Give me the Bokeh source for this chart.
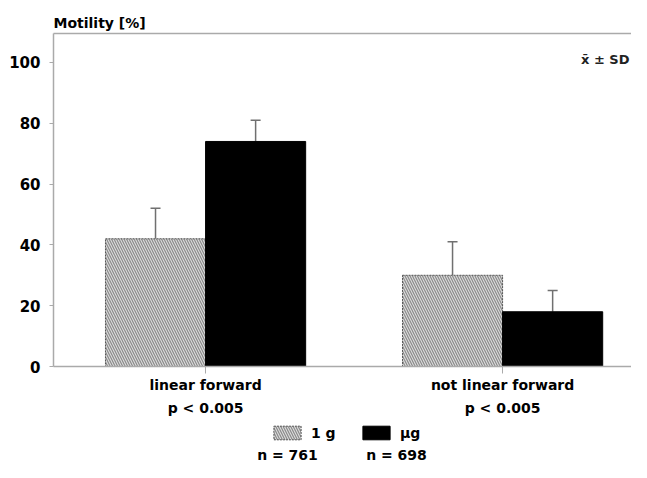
from bokeh.plotting import figure
from bokeh.layouts import column
from bokeh.models import (FixedTicker, LinearAxis, Range1d, ColumnDataSource, Whisker, TeeHead,
                          Legend, LegendItem, Label, Title)
from bokeh.transform import dodge
from bokeh.embed import file_html
from bokeh.resources import INLINE

# ---- data ----
categories = ["linear forward", "not linear forward"]
p_values = ["p < 0.005", "p < 0.005"]
series_names = ["1 g", "µg"]
n_labels = ["n = 761", "n = 698"]
mean_1g = [42, 30]
sd_1g = [10, 11]
mean_ug = [74, 18]
sd_ug = [7, 7]
y_ticks = [0, 20, 40, 60, 80, 100]
y_label = "Motility [%]"
stat_note = "x̄ ± SD"

FONT = "DejaVu Sans"
BAR_W = 0.337
xs = [i + 1 for i in range(len(categories))]

HATCH = dict(fill_color="#dcdcdc", hatch_pattern="left_diagonal_line", hatch_color="#8a8a8a",
             hatch_scale=5, hatch_weight=1.2, line_color="#555555", line_dash="2 1", line_width=1)
SOLID = dict(fill_color="black", line_color="black")

src = ColumnDataSource(dict(
    x=xs,
    m1=mean_1g, u1=[m + s for m, s in zip(mean_1g, sd_1g)],
    m2=mean_ug, u2=[m + s for m, s in zip(mean_ug, sd_ug)],
))

p = figure(width=631, height=420, output_backend="svg", toolbar_location=None,
           x_range=Range1d(0.488, 2.434), y_range=Range1d(0, 109.5),
           min_border_left=53, min_border_right=0, min_border_top=33, min_border_bottom=54,
           x_axis_type=None, y_axis_type=None)
p.outline_line_color = None
p.xgrid.visible = False
p.ygrid.visible = False

p.vbar(x=dodge("x", -BAR_W / 2, range=p.x_range), top="m1", width=BAR_W, source=src, **HATCH)
p.vbar(x=dodge("x", BAR_W / 2, range=p.x_range), top="m2", width=BAR_W, source=src, **SOLID)

for base, lo, hi in [(-BAR_W / 2, "m1", "u1"), (BAR_W / 2, "m2", "u2")]:
    w = Whisker(base=dodge("x", base, range=p.x_range), lower=lo, upper=hi, source=src,
                line_color="#707070", line_width=1.5, lower_head=None,
                upper_head=TeeHead(size=10, line_color="#707070", line_width=1.5))
    p.add_layout(w)

# y axis
ya = LinearAxis(ticker=FixedTicker(ticks=y_ticks))
ya.axis_line_color = "#aaaaaa"
ya.axis_line_width = 1.5
ya.major_tick_line_color = "#aaaaaa"
ya.major_tick_in = 0
ya.major_tick_out = 4
ya.minor_tick_line_color = None
ya.major_label_text_font = FONT
ya.major_label_text_font_style = "bold"
ya.major_label_text_font_size = "15px"
ya.major_label_text_color = "black"
ya.major_label_standoff = 9
p.add_layout(ya, "left")

# x axis (categories)
xa = LinearAxis(ticker=FixedTicker(ticks=xs),
                major_label_overrides={x: c for x, c in zip(xs, categories)})
xa.axis_line_color = "#aaaaaa"
xa.axis_line_width = 1.5
xa.major_tick_line_color = "#aaaaaa"
xa.major_tick_in = 0
xa.major_tick_out = 7
xa.minor_tick_line_color = None
xa.major_label_text_font = FONT
xa.major_label_text_font_style = "bold"
xa.major_label_text_font_size = "14px"
xa.major_label_text_color = "black"
xa.major_label_standoff = 3
p.add_layout(xa, "below")

xa2 = LinearAxis(ticker=FixedTicker(ticks=xs),
                 major_label_overrides={x: c for x, c in zip(xs, p_values)})
xa2.axis_line_color = None
xa2.major_tick_line_color = None
xa2.major_tick_out = 0
xa2.major_tick_in = 0
xa2.minor_tick_line_color = None
xa2.major_label_text_font = FONT
xa2.major_label_text_font_style = "bold"
xa2.major_label_text_font_size = "14px"
xa2.major_label_text_color = "black"
xa2.major_label_standoff = 4
p.add_layout(xa2, "below")

# top frame line
ta = LinearAxis(ticker=FixedTicker(ticks=[]))
ta.axis_line_color = "#aaaaaa"
ta.axis_line_width = 1.5
ta.major_tick_line_color = None
ta.minor_tick_line_color = None
ta.major_tick_out = 0
ta.major_label_text_font_size = "0px"
ta.major_label_standoff = 0
p.add_layout(ta, "above")

p.add_layout(Title(text=y_label, align="left", text_font=FONT, text_font_style="bold",
                   text_font_size="14px", text_color="black", standoff=5), "above")

p.add_layout(Label(x=576, y=307, x_units="screen", y_units="screen", text=stat_note,
                   text_font=FONT, text_font_style="bold", text_font_size="13px",
                   text_align="right", text_baseline="middle", text_color="#222222"))

# ---- legend strip (frame aligned with the chart's frame) ----
q = figure(width=631, height=42, output_backend="svg", toolbar_location=None,
           x_range=Range1d(100, 101), y_range=Range1d(1000, 1001),
           min_border_left=0, min_border_right=0, min_border_top=0, min_border_bottom=0,
           x_axis_type=None, y_axis_type=None)
q.outline_line_color = None
q.xgrid.visible = False
q.ygrid.visible = False
# swatch renderers (same series, kept far outside this strip's visible range)
k1 = q.vbar(x="x", top="m1", width=BAR_W, source=src, **HATCH)
k2 = q.vbar(x="x", top="m2", width=BAR_W, source=src, **SOLID)
leg = Legend(items=[LegendItem(label=series_names[0], renderers=[k1], index=0),
                    LegendItem(label=series_names[1], renderers=[k2], index=0)],
             location=(217, 21), orientation="horizontal",
             glyph_width=34, glyph_height=17, label_standoff=7, spacing=22, label_width=26,
             label_text_font=FONT, label_text_font_style="bold", label_text_font_size="14px",
             label_text_color="black",
             label_height=17, padding=0, margin=0, border_line_color=None,
             background_fill_alpha=0)
q.add_layout(leg, "center")
for txt, cx in zip(n_labels, [234, 343]):
    q.add_layout(Label(x=cx, y=8, x_units="screen", y_units="screen", text=txt,
                       text_font=FONT, text_font_style="bold", text_font_size="14px",
                       text_color="black", text_align="center", text_baseline="middle"))

open("out.html", "w").write(file_html(column(p, q, spacing=0), INLINE))
